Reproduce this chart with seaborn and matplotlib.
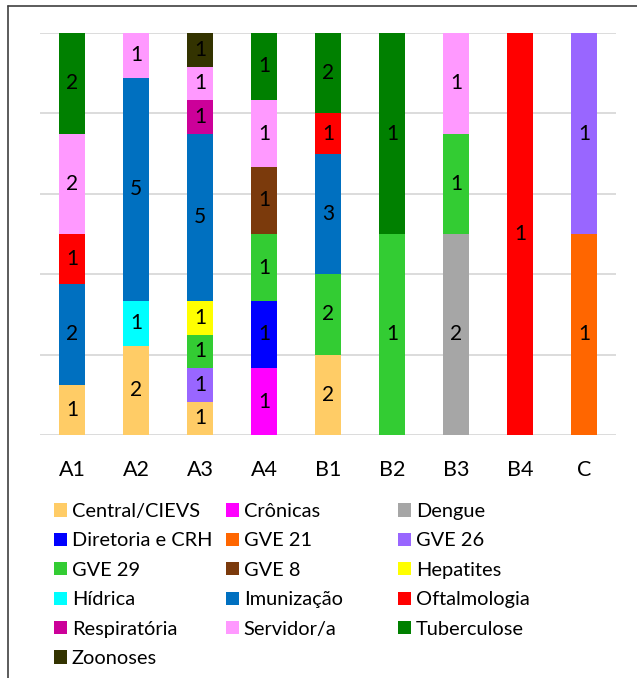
import matplotlib
matplotlib.use("Agg")
import matplotlib.pyplot as plt
import seaborn as sns
import numpy as np
import pandas as pd
from matplotlib.patches import Patch
from matplotlib.lines import Line2D

groups = ["A1", "A2", "A3", "A4", "B1", "B2", "B3", "B4", "C"]
categories = ["Central/CIEVS", "Crônicas", "Dengue", "Diretoria e CRH", "GVE 21", "GVE 26",
              "GVE 29", "GVE 8", "Hepatites", "Hídrica", "Imunização", "Oftalmologia",
              "Respiratória", "Servidor/a", "Tuberculose", "Zoonoses"]
colors = ["#FFCC66", "#FF00FF", "#A6A6A6", "#0000FF", "#FF6600", "#9966FF",
          "#33CC33", "#7B3A0C", "#FFFF00", "#00FFFF", "#0070C0", "#FF0000",
          "#CC0099", "#FF99FF", "#008000", "#333300"]

central = [1, 2, 1, 0, 2, 0, 0, 0, 0]
cronicas = [0, 0, 0, 1, 0, 0, 0, 0, 0]
dengue = [0, 0, 0, 0, 0, 0, 2, 0, 0]
diretoria = [0, 0, 0, 1, 0, 0, 0, 0, 0]
gve21 = [0, 0, 0, 0, 0, 0, 0, 0, 1]
gve26 = [0, 0, 1, 0, 0, 0, 0, 0, 1]
gve29 = [0, 0, 1, 1, 2, 1, 1, 0, 0]
gve8 = [0, 0, 0, 1, 0, 0, 0, 0, 0]
hepatites = [0, 0, 1, 0, 0, 0, 0, 0, 0]
hidrica = [0, 1, 0, 0, 0, 0, 0, 0, 0]
imunizacao = [2, 5, 5, 0, 3, 0, 0, 0, 0]
oftalmologia = [1, 0, 0, 0, 1, 0, 0, 1, 0]
respiratoria = [0, 0, 1, 0, 0, 0, 0, 0, 0]
servidor = [2, 1, 1, 1, 0, 0, 1, 0, 0]
tuberculose = [2, 0, 0, 1, 2, 1, 0, 0, 0]
zoonoses = [0, 0, 1, 0, 0, 0, 0, 0, 0]

series = [central, cronicas, dengue, diretoria, gve21, gve26, gve29, gve8, hepatites,
          hidrica, imunizacao, oftalmologia, respiratoria, servidor, tuberculose, zoonoses]

sns.set_theme(style="white")
plt.rcParams["font.family"] = ["Lato", "DejaVu Sans"]

counts = np.array(series, dtype=float)
totals = counts.sum(axis=0)
pct = counts / totals * 100

fig = plt.figure(figsize=(6.37, 6.78), dpi=100)
ax = fig.add_axes([40 / 637, 1 - 435 / 678, 576 / 637, 402 / 678])

bottom = np.zeros(len(groups))
for i, cat in enumerate(categories):
    df = pd.DataFrame({"grupo": groups, "pct": pct[i]})
    sns.barplot(data=df, x="grupo", y="pct", order=groups, color=colors[i],
                bottom=bottom.copy(), width=0.4, errorbar=None, ax=ax,
                saturation=1, linewidth=0)
    for j in range(len(groups)):
        if counts[i, j] > 0:
            ax.text(j, bottom[j] + pct[i, j] / 2, f"{int(counts[i, j])}",
                    ha="center", va="center", fontsize=15, color="black")
    bottom += pct[i]

ax.set_ylim(0, 100)
ax.set_xlim(-0.5, len(groups) - 0.5)
ax.set_yticks([0, 20, 40, 60, 80, 100])
ax.set_yticklabels([])
ax.yaxis.grid(True, color="#D9D9D9", linewidth=1.3)
ax.set_axisbelow(True)
for s in ["left", "right", "top", "bottom"]:
    ax.spines[s].set_visible(False)
ax.tick_params(axis="x", length=0, pad=18, labelsize=15.5, colors="black")
ax.tick_params(axis="y", length=0)
ax.set_xlabel("")
ax.set_ylabel("")

handles = [Patch(facecolor=c, edgecolor="none") for c in colors]
ncol = 3
col_x = [54, 226, 398]
for c in range(ncol):
    idx = list(range(c, len(categories), ncol))
    fig.legend([handles[k] for k in idx], [categories[k] for k in idx],
               loc="upper left", bbox_to_anchor=(col_x[c] / 637, 1 - 503 / 678),
               ncol=1, frameon=False, fontsize=14.4, handlelength=0.64, handleheight=0.64,
               handletextpad=0.25, labelspacing=0.62, borderpad=0, borderaxespad=0,
               labelcolor="black")

fig.add_artist(Line2D([8 / 637, 8 / 637], [0, 1 - 6 / 678], transform=fig.transFigure,
                      color="#404040", linewidth=1.2))
fig.add_artist(Line2D([8 / 637, 1], [1 - 6 / 678, 1 - 6 / 678], transform=fig.transFigure,
                      color="#404040", linewidth=1.2))

fig.savefig("out.png", dpi=100)
